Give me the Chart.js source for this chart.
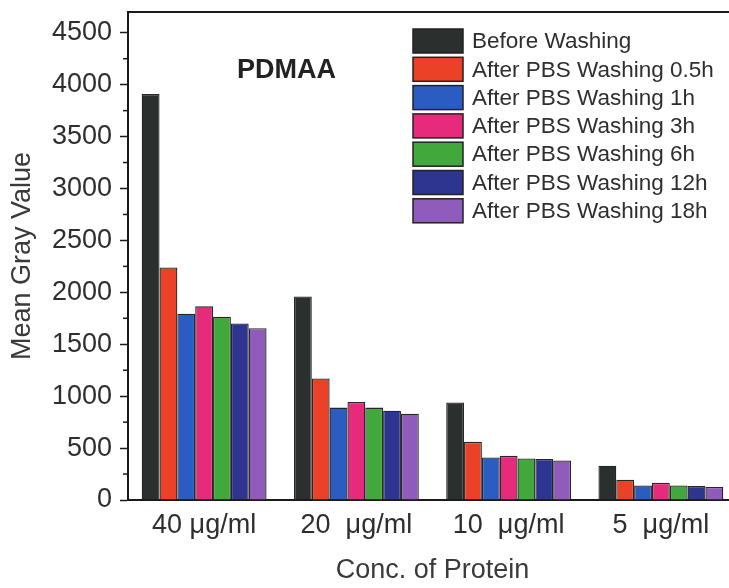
<!DOCTYPE html>
<html>
<head>
<meta charset="utf-8">
<script src="https://cdn.jsdelivr.net/npm/chart.js@4/dist/chart.umd.min.js"></script>
<style>
  html, body { margin:0; padding:0; background:#ffffff; overflow:hidden; }
  #wrap { width:729px; height:588px; overflow:hidden; position:relative; }
  canvas { display:block; }
</style>
</head>
<body>
<div id="wrap"><canvas id="c" width="745" height="588"></canvas></div>
<script>
// ---- data ----
const categories = ["40 μg/ml", "20  μg/ml", "10  μg/ml", "5  μg/ml"];
const seriesLabels = ["Before Washing", "After PBS Washing 0.5h", "After PBS Washing 1h", "After PBS Washing 3h", "After PBS Washing 6h", "After PBS Washing 12h", "After PBS Washing 18h"];
const beforeWashing = [3910, 1960, 940, 330];
const after05h = [2240, 1170, 560, 195];
const after1h = [1795, 890, 410, 140];
const after3h = [1865, 945, 425, 165];
const after6h = [1765, 890, 400, 140];
const after12h = [1700, 860, 395, 135];
const after18h = [1655, 830, 380, 125];
const yTicks = [0, 500, 1000, 1500, 2000, 2500, 3000, 3500, 4000, 4500];
const yMax = 4700;
const seriesColors = ["#2b302f", "#ea4127", "#2a5cc2", "#e62a7c", "#41a83b", "#2e3590", "#8f5cbb"];

const allSeries = [beforeWashing, after05h, after1h, after3h, after6h, after12h, after18h];
const FONT = "'Liberation Sans', Arial, sans-serif";

const decor = {
  id: 'decor',
  afterDraw(chart) {
    const ctx = chart.ctx;
    const a = chart.chartArea;
    const y = chart.scales.y;
    ctx.save();
    // top frame line
    ctx.strokeStyle = '#1a1a1a';
    ctx.lineWidth = 2;
    ctx.beginPath();
    ctx.moveTo(a.left - 1, a.top);
    ctx.lineTo(a.right + 1, a.top);
    ctx.stroke();
    // minor ticks
    ctx.lineWidth = 1.5;
    for (let i = 0; i < yTicks.length - 1; i++) {
      const v = (yTicks[i] + yTicks[i + 1]) / 2;
      const py = y.getPixelForValue(v);
      ctx.beginPath();
      ctx.moveTo(a.left - 5, py);
      ctx.lineTo(a.left, py);
      ctx.stroke();
    }
    // PDMAA label
    ctx.fillStyle = '#222';
    ctx.font = 'bold 27px ' + FONT;
    ctx.textBaseline = 'middle';
    ctx.textAlign = 'left';
    ctx.fillText('PDMAA', 237, 71);
    // legend
    const bx = 413, bw = 50, bh = 24, top0 = 29, pitch = 28.3;
    ctx.font = '22.5px ' + FONT;
    chart.data.datasets.forEach((ds, i) => {
      const ty = top0 + i * pitch;
      ctx.fillStyle = ds.backgroundColor;
      ctx.fillRect(bx, ty, bw, bh);
      ctx.strokeStyle = '#222';
      ctx.lineWidth = 1.5;
      ctx.strokeRect(bx, ty, bw, bh);
      ctx.fillStyle = '#2e2e2e';
      ctx.fillText(ds.label, 472, ty + bh / 2 + 1);
    });
    ctx.restore();
  }
};

new Chart(document.getElementById('c'), {
  type: 'bar',
  data: {
    labels: categories,
    datasets: allSeries.map((d, i) => ({
      label: seriesLabels[i],
      data: d,
      backgroundColor: seriesColors[i],
      borderColor: '#262626',
      borderWidth: 1.3,
      barPercentage: 1.0,
      categoryPercentage: 0.82
    }))
  },
  options: {
    responsive: false,
    animation: false,
    layout: { padding: { left: 0, right: 8, top: 12, bottom: 0 } },
    plugins: { legend: { display: false }, tooltip: { enabled: false } },
    scales: {
      x: {
        grid: { display: true, drawOnChartArea: false, drawTicks: false, color: '#1a1a1a' },
        border: { display: true, color: '#1a1a1a', width: 2 },
        ticks: { color: '#2e2e2e', font: { family: FONT, size: 27 }, padding: 9, maxRotation: 0 },
        title: { display: true, text: 'Conc. of Protein', color: '#3a3a3a', font: { family: FONT, size: 27 }, padding: { top: 0, bottom: 1 } },
        afterFit(s) { s.height = 88; }
      },
      y: {
        min: 0, max: yMax,
        afterBuildTicks(s) { s.ticks = yTicks.map(v => ({ value: v })); },
        grid: { drawOnChartArea: false, drawTicks: true, tickLength: 8, color: '#1a1a1a', tickWidth: 1.5 },
        border: { display: true, color: '#1a1a1a', width: 2 },
        ticks: { color: '#2e2e2e', font: { family: FONT, size: 27, lineHeight: 0.2 }, padding: 8, callback: v => String(v) },
        title: { display: true, text: 'Mean Gray Value', color: '#3a3a3a', font: { family: FONT, size: 27 }, padding: { top: 6, bottom: 0 } },
        afterFit(s) { s.width = 128; }
      }
    }
  },
  plugins: [decor]
});
</script>
</body>
</html>
